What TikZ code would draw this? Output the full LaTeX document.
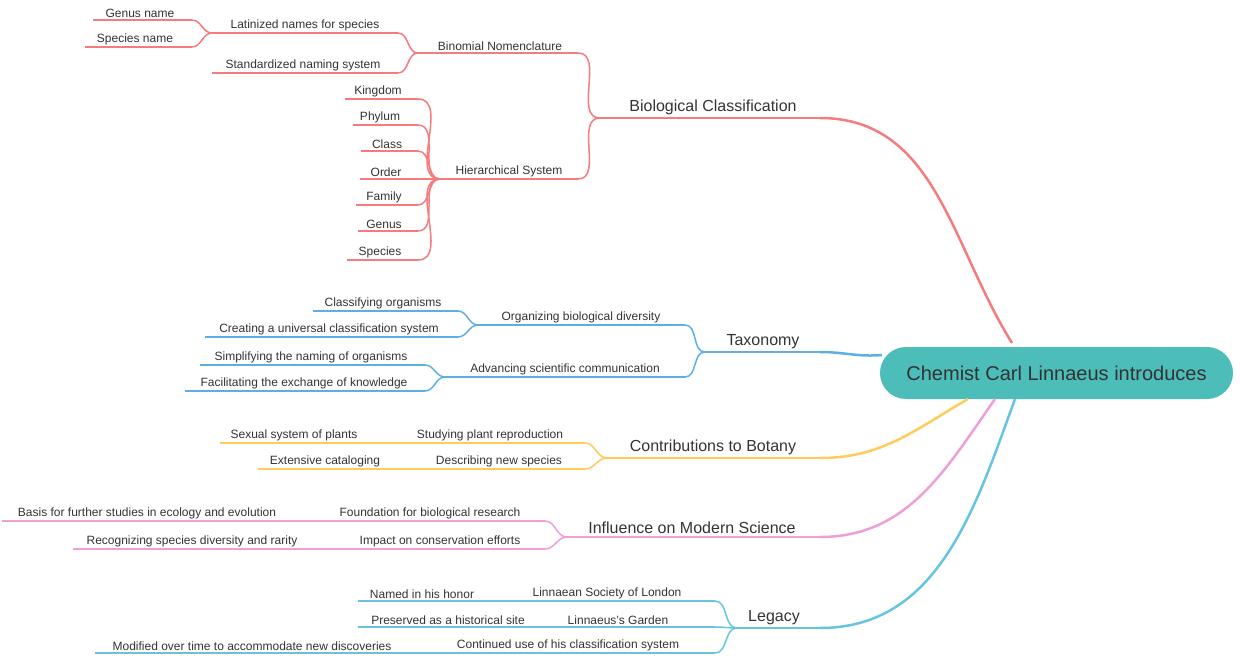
\documentclass[tikz,border=0pt]{standalone}
\usepackage{fontspec}
\setmainfont{Liberation Sans}
\begin{document}
\definecolor{cred}{HTML}{F47C7C}
\definecolor{cblue}{HTML}{5DAEE6}
\definecolor{cyel}{HTML}{FFCC5C}
\definecolor{cpink}{HTML}{EE9FD8}
\definecolor{clb}{HTML}{66C4E0}
\definecolor{ctxt}{HTML}{333333}
\definecolor{cteal}{HTML}{4DBDBA}
\begin{tikzpicture}[x=1pt,y=-1pt,
 lbl/.style={text=ctxt,font=\fontsize{12}{14}\selectfont,inner sep=2pt},
 big/.style={text=ctxt,font=\fontsize{16}{18}\selectfont,inner sep=3pt},
 thin/.style={line width=1.5pt},
 thick/.style={line width=2.5pt}]
\useasboundingbox (0,0) rectangle (1240,656);
\newcommand\mm[8]{%
 \coordinate (#1L) at (#3,#2); \coordinate (#1R) at (#4,#2);
 \draw[#7,thin] (#1L)--(#1R);
 \node[#8,anchor=south] (#1) at (#5,#2) {#6};}
\newcommand\cn[3]{\draw[#3,thin] (#1L) to[out=180,in=0] (#2R);}
\node[fill=cteal,rounded corners=26pt,minimum width=353pt,minimum height=52pt,text=ctxt,font=\fontsize{20}{24}\selectfont] (root) at (1056.5,373) {Chemist Carl Linnaeus introduces};
% Biological classification
\mm{bc}{118}{600}{820}{713}{Biological Classification}{cred}{big}
\mm{bn}{53}{418}{578}{500}{Binomial Nomenclature}{cred}{lbl}
\mm{hs}{179}{440}{578}{509}{Hierarchical System}{cred}{lbl}
\mm{ln}{33}{212}{398}{305}{Latinized names for species}{cred}{lbl}
\mm{sn}{73}{212}{398}{303}{Standardized naming system}{cred}{lbl}
\mm{gn}{20}{93}{192}{140}{Genus name}{cred}{lbl}
\mm{spn}{47}{85}{192}{135}{Species name}{cred}{lbl}
\mm{k}{99}{345}{418}{378}{Kingdom}{cred}{lbl}
\mm{p}{125}{353}{418}{380}{Phylum}{cred}{lbl}
\mm{c}{151}{361}{418}{387}{Class}{cred}{lbl}
\mm{o}{179}{360}{418}{386}{Order}{cred}{lbl}
\mm{f}{205}{356}{418}{384}{Family}{cred}{lbl}
\mm{g}{231}{358}{418}{384}{Genus}{cred}{lbl}
\mm{s}{260}{347}{418}{380}{Species}{cred}{lbl}
\cn{bc}{bn}{cred}\cn{bc}{hs}{cred}\cn{bn}{ln}{cred}\cn{bn}{sn}{cred}
\cn{ln}{gn}{cred}\cn{ln}{spn}{cred}
\foreach \n in {k,p,c,o,f,g,s}{\cn{hs}{\n}{cred}}
\coordinate (r1) at (1012,343);
\draw[cred,thick] (bcR) to[out=0,in=122] (r1);
% Taxonomy
\mm{tx}{352}{705}{820}{763}{Taxonomy}{cblue}{big}
\mm{ob}{325}{478}{685}{581}{Organizing biological diversity}{cblue}{lbl}
\mm{as}{377}{445}{685}{565}{Advancing scientific communication}{cblue}{lbl}
\mm{co}{311}{313}{458}{383}{Classifying organisms}{cblue}{lbl}
\mm{cu}{337}{205}{458}{329}{Creating a universal classification system}{cblue}{lbl}
\mm{si}{365}{200}{425}{311}{Simplifying the naming of organisms}{cblue}{lbl}
\mm{fe}{391}{185}{425}{304}{Facilitating the exchange of knowledge}{cblue}{lbl}
\cn{tx}{ob}{cblue}\cn{tx}{as}{cblue}\cn{ob}{co}{cblue}\cn{ob}{cu}{cblue}\cn{as}{si}{cblue}\cn{as}{fe}{cblue}
\coordinate (r2) at (882,355);
\draw[cblue,thick] (txR) to[out=0,in=185] (r2);
% Botany
\mm{cb}{458}{607}{820}{713}{Contributions to Botany}{cyel}{big}
\mm{sp}{443}{405}{585}{490}{Studying plant reproduction}{cyel}{lbl}
\mm{dn}{469}{425}{585}{499}{Describing new species}{cyel}{lbl}
\mm{ss}{443}{220}{405}{294}{Sexual system of plants}{cyel}{lbl}
\mm{ec}{469}{258}{425}{325}{Extensive cataloging}{cyel}{lbl}
\cn{cb}{sp}{cyel}\cn{cb}{dn}{cyel}
\coordinate (r3) at (968,399);
\draw[cyel,thick] (cbR) to[out=0,in=210] (r3);
% Influence
\mm{im}{537}{567}{820}{692}{Influence on Modern Science}{cpink}{big}
\mm{fb}{521}{330}{545}{430}{Foundation for biological research}{cpink}{lbl}
\mm{ic}{549}{350}{545}{440}{Impact on conservation efforts}{cpink}{lbl}
\mm{bf}{521}{2}{330}{147}{Basis for further studies in ecology and evolution}{cpink}{lbl}
\mm{rs}{549}{73}{350}{192}{Recognizing species diversity and rarity}{cpink}{lbl}
\cn{im}{fb}{cpink}\cn{im}{ic}{cpink}
\coordinate (r4) at (995,399);
\draw[cpink,thick] (imR) to[out=0,in=235] (r4);
% Legacy
\mm{lg}{628}{737}{820}{774}{Legacy}{clb}{big}
\mm{ls}{601}{520}{715}{607}{Linnaean Society of London}{clb}{lbl}
\mm{lga}{627}{570}{715}{618}{Linnaeus's Garden}{clb}{lbl}
\mm{cu2}{653}{440}{715}{568}{Continued use of his classification system}{clb}{lbl}
\mm{nh}{601}{358}{520}{422}{Named in his honor}{clb}{lbl}
\mm{ph}{627}{358}{570}{448}{Preserved as a historical site}{clb}{lbl}
\mm{mo}{653}{95}{440}{252}{Modified over time to accommodate new discoveries}{clb}{lbl}
\cn{lg}{ls}{clb}\cn{lg}{lga}{clb}\cn{lg}{cu2}{clb}
\coordinate (r5) at (1015,399);
\draw[clb,thick] (lgR) to[out=0,in=250] (r5);
\end{tikzpicture}
\end{document}
